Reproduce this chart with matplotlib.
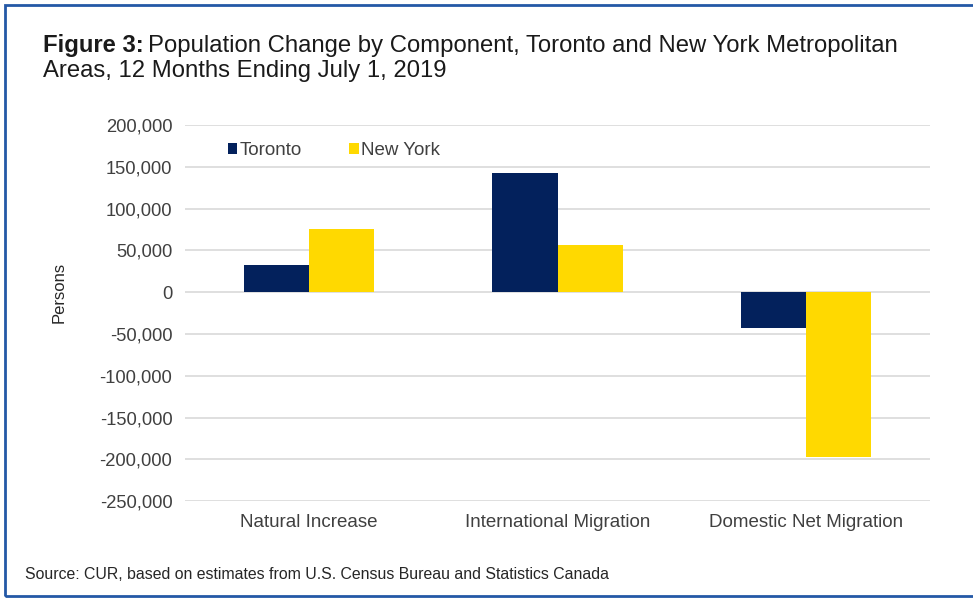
import numpy as np
import matplotlib.pyplot as plt
from matplotlib.patches import Rectangle

plt.rcParams['font.family'] = ['Liberation Sans', 'DejaVu Sans']

# data
categories = ['Natural Increase', 'International Migration', 'Domestic Net Migration']
toronto = [32000, 142000, -43000]
new_york = [75000, 57000, -197000]
series_names = ['Toronto', 'New York']

navy = '#03215C'
yellow = '#FFD900'
txt = '#404040'

fig = plt.figure(figsize=(9.73, 5.98), dpi=100)
ax = fig.add_axes([0.190, 0.162, 0.766, 0.629])

x = np.arange(len(categories))
w = 0.262
ax.bar(x - w/2, toronto, w, color=navy, label=series_names[0], zorder=3)
ax.bar(x + w/2, new_york, w, color=yellow, label=series_names[1], zorder=3)

ax.set_xlim(-0.5, 2.5)
ax.set_ylim(-250000, 200000)
ax.set_yticks(np.arange(-250000, 200001, 50000))
ax.yaxis.set_major_formatter(plt.FuncFormatter(lambda v, p: f'{int(v):,}'))
ax.set_xticks(x)
ax.set_xticklabels(categories)
ax.tick_params(axis='both', length=0, labelsize=13.5, colors=txt)
ax.tick_params(axis='y', labelsize=13.2, pad=9)
ax.tick_params(axis='x', pad=9)
ax.grid(axis='y', color='#d9d9d9', linewidth=1.2, zorder=0)
for s in ax.spines.values():
    s.set_visible(False)
ax.set_ylabel('Persons', fontsize=12, color='#262626')
ax.yaxis.set_label_coords(-0.158, 0.556)

ax.legend(loc='upper left', bbox_to_anchor=(0.035, 1.0), ncol=2, frameon=False,
          fontsize=13.5, handlelength=0.5, handleheight=0.5, handletextpad=0.15,
          columnspacing=2.5, labelcolor=txt)

tsize = 17.2
t1 = fig.text(0.044, 0.913, 'Figure 3:', fontsize=tsize, fontweight='bold', color='#1a1a1a', va='baseline')
fig.canvas.draw()
bb = t1.get_window_extent().transformed(fig.transFigure.inverted())
fig.text(bb.x1 + 0.005, 0.913, 'Population Change by Component, Toronto and New York Metropolitan',
         fontsize=tsize, color='#1a1a1a', va='baseline')
fig.text(0.044, 0.871, 'Areas, 12 Months Ending July 1, 2019', fontsize=tsize, color='#1a1a1a', va='baseline')
fig.text(0.026, 0.032, 'Source: CUR, based on estimates from U.S. Census Bureau and Statistics Canada',
         fontsize=11.4, color='#262626')

fig.patches.append(Rectangle((0.005, 0.004), 1.0, 0.988, transform=fig.transFigure,
                             fill=False, edgecolor='#2458A6', linewidth=2))

fig.savefig('out.png', dpi=100)
